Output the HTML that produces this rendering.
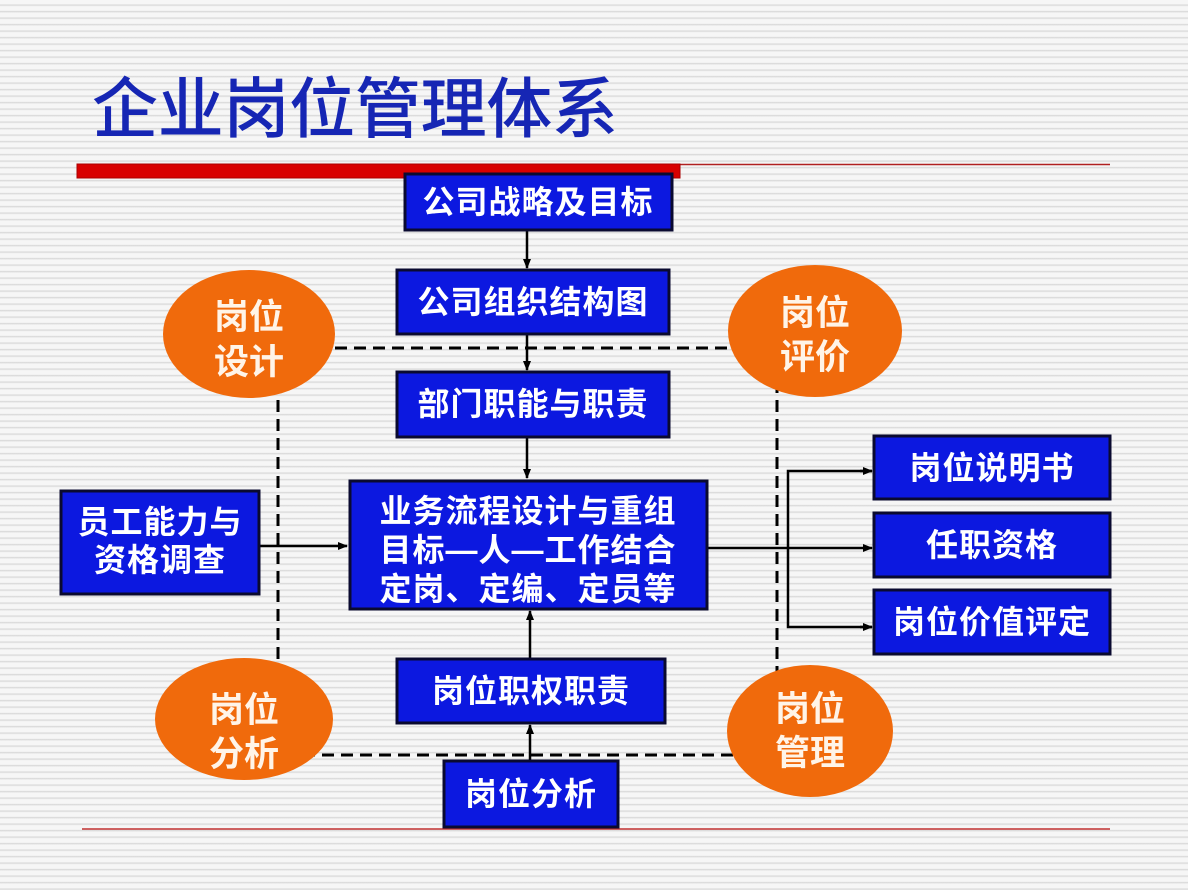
<!DOCTYPE html>
<html><head><meta charset="utf-8"><style>
html,body{margin:0;padding:0}
body{width:1188px;height:890px;overflow:hidden;background:#fff repeating-linear-gradient(to bottom,#f6f6f6 0px,#f6f6f6 4px,#d6d6d6 5px,#f6f6f6 6.5px);}
svg{position:absolute;left:0;top:0}
text{font-family:"Liberation Sans","Noto Sans CJK SC",sans-serif}
</style></head><body>
<svg width="1188" height="890" viewBox="0 0 1188 890">
<defs><marker id="a" markerWidth="10" markerHeight="10" refX="9" refY="5" orient="auto" markerUnits="userSpaceOnUse"><path d="M0,1 L10,5 L0,9 z" fill="#000"/></marker></defs>
<text x="92" y="132" font-size="66" fill="#1626b4" textLength="526" style="font-weight:500">企业岗位管理体系</text>
<line x1="77" y1="164.5" x2="1110" y2="164.5" stroke="#b02020" stroke-width="1.5"/>
<rect x="77" y="164" width="603" height="14" fill="#d80000" stroke="#a00" stroke-width="1"/>
<line x1="82" y1="829" x2="1110" y2="829" stroke="#c03030" stroke-width="1.5"/>
<rect x="278" y="348" width="499" height="407" fill="none" stroke="#000" stroke-width="3" stroke-dasharray="12,7"/>
<g fill="#f06a0c">
<ellipse cx="249" cy="334" rx="86" ry="64"/>
<ellipse cx="815" cy="331" rx="87" ry="66"/>
<ellipse cx="244" cy="719" rx="89" ry="61"/>
<ellipse cx="810" cy="731" rx="83" ry="66"/>
</g>
<g fill="#fff4e8" font-size="35" font-weight="bold" text-anchor="middle">
<text x="249" y="329">岗位</text><text x="249" y="374">设计</text>
<text x="815" y="325">岗位</text><text x="815" y="369">评价</text>
<text x="244" y="722">岗位</text><text x="244" y="766">分析</text>
<text x="810" y="721">岗位</text><text x="810" y="765">管理</text>
</g>
<g stroke="#000" stroke-width="2.5" fill="none">
<line x1="527" y1="230" x2="527" y2="268" marker-end="url(#a)"/>
<line x1="527" y1="334" x2="527" y2="370" marker-end="url(#a)"/>
<line x1="527" y1="437" x2="527" y2="478" marker-end="url(#a)"/>
<line x1="530" y1="658" x2="530" y2="611" marker-end="url(#a)"/>
<line x1="530" y1="760" x2="530" y2="725" marker-end="url(#a)"/>
<line x1="259" y1="546" x2="347" y2="546" marker-end="url(#a)"/>
<line x1="707" y1="548" x2="872" y2="548" marker-end="url(#a)"/>
<polyline points="872,471 788,471 788,627 872,627"/>
<line x1="860" y1="471" x2="872" y2="471" marker-end="url(#a)"/>
<line x1="860" y1="627" x2="872" y2="627" marker-end="url(#a)"/>
</g>
<g fill="#0c18e0" stroke="#0a0a30" stroke-width="3">
<rect x="405" y="174" width="267" height="56"/>
<rect x="397" y="270" width="272" height="64"/>
<rect x="397" y="372" width="272" height="65"/>
<rect x="350" y="481" width="357" height="128"/>
<rect x="397" y="659" width="268" height="64"/>
<rect x="444" y="761" width="174" height="66"/>
<rect x="61" y="491" width="198" height="103"/>
<rect x="874" y="436" width="236" height="63"/>
<rect x="874" y="513" width="236" height="64"/>
<rect x="874" y="590" width="236" height="64"/>
</g>
<g fill="#fff" font-size="32" font-weight="bold" text-anchor="middle" letter-spacing="1">
<text x="538" y="213">公司战略及目标</text>
<text x="533" y="313">公司组织结构图</text>
<text x="533" y="415">部门职能与职责</text>
<text x="528" y="522">业务流程设计与重组</text>
<text x="528" y="561">目标—人—工作结合</text>
<text x="528" y="600">定岗、定编、定员等</text>
<text x="531" y="702">岗位职权职责</text>
<text x="531" y="805">岗位分析</text>
<text x="160" y="533">员工能力与</text>
<text x="160" y="571">资格调查</text>
<text x="992" y="479">岗位说明书</text>
<text x="992" y="556">任职资格</text>
<text x="992" y="633">岗位价值评定</text>
</g>
</svg>
</body></html>
